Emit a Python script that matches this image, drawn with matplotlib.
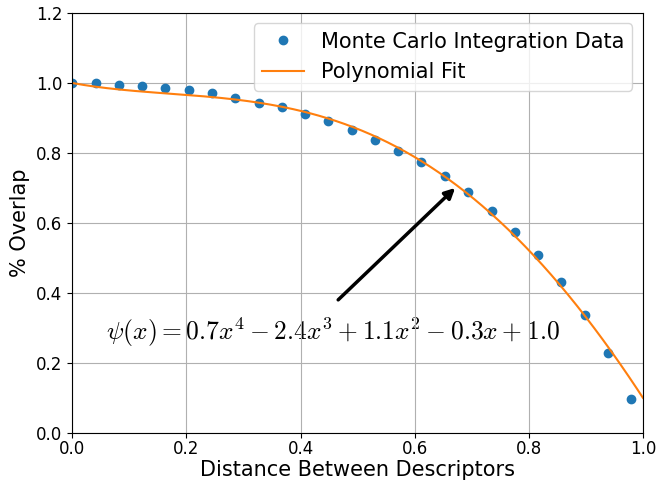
import numpy as np
import matplotlib.pyplot as plt

plt.rcParams['mathtext.fontset'] = 'cm'

# sampled distances and measured overlap
dist = [0.0, 0.041, 0.082, 0.122, 0.163, 0.204, 0.245, 0.286, 0.327, 0.367,
        0.408, 0.449, 0.490, 0.531, 0.571, 0.612, 0.653, 0.694, 0.735, 0.776,
        0.816, 0.857, 0.898, 0.939, 0.980]
overlap = [1.0, 0.999, 0.995, 0.991, 0.987, 0.980, 0.970, 0.958, 0.944, 0.930,
           0.910, 0.890, 0.866, 0.838, 0.807, 0.773, 0.733, 0.688, 0.635, 0.575,
           0.508, 0.430, 0.338, 0.228, 0.097]
# printed fit coefficients, highest power first
coeffs = [0.7, -2.4, 1.1, -0.3, 1.0]

fig, ax = plt.subplots(figsize=(6.69, 4.83), dpi=100)
fig.subplots_adjust(left=0.108, right=0.961, top=0.973, bottom=0.104)

ax.plot(dist, overlap, 'o', color='tab:blue', markersize=6, label='Monte Carlo Integration Data')
xs = np.linspace(0, 1, 200)
ax.plot(xs, np.polyval(coeffs, xs), color='tab:orange', linewidth=1.5, label='Polynomial Fit')

ax.annotate('', xy=(0.671, 0.70), xytext=(0.466, 0.38),
            arrowprops=dict(arrowstyle='-|>', color='black', lw=2.5, mutation_scale=15,
                            shrinkA=0, shrinkB=0))
ax.text(0.06, 0.288, r'$\psi(x) = 0.7x^4 - 2.4x^3 + 1.1x^2 - 0.3x + 1.0$',
        fontsize=18.4, va='center', zorder=0.5)

ax.set_xlim(0, 1)
ax.set_ylim(0, 1.2)
ax.set_xlabel('Distance Between Descriptors', fontsize=15, labelpad=1)
ax.set_ylabel('% Overlap', fontsize=15)
ax.tick_params(labelsize=12)
ax.tick_params(axis='x', pad=2)
ax.grid(True)
ax.legend(loc='upper right', fontsize=15)

plt.savefig('out.png')
